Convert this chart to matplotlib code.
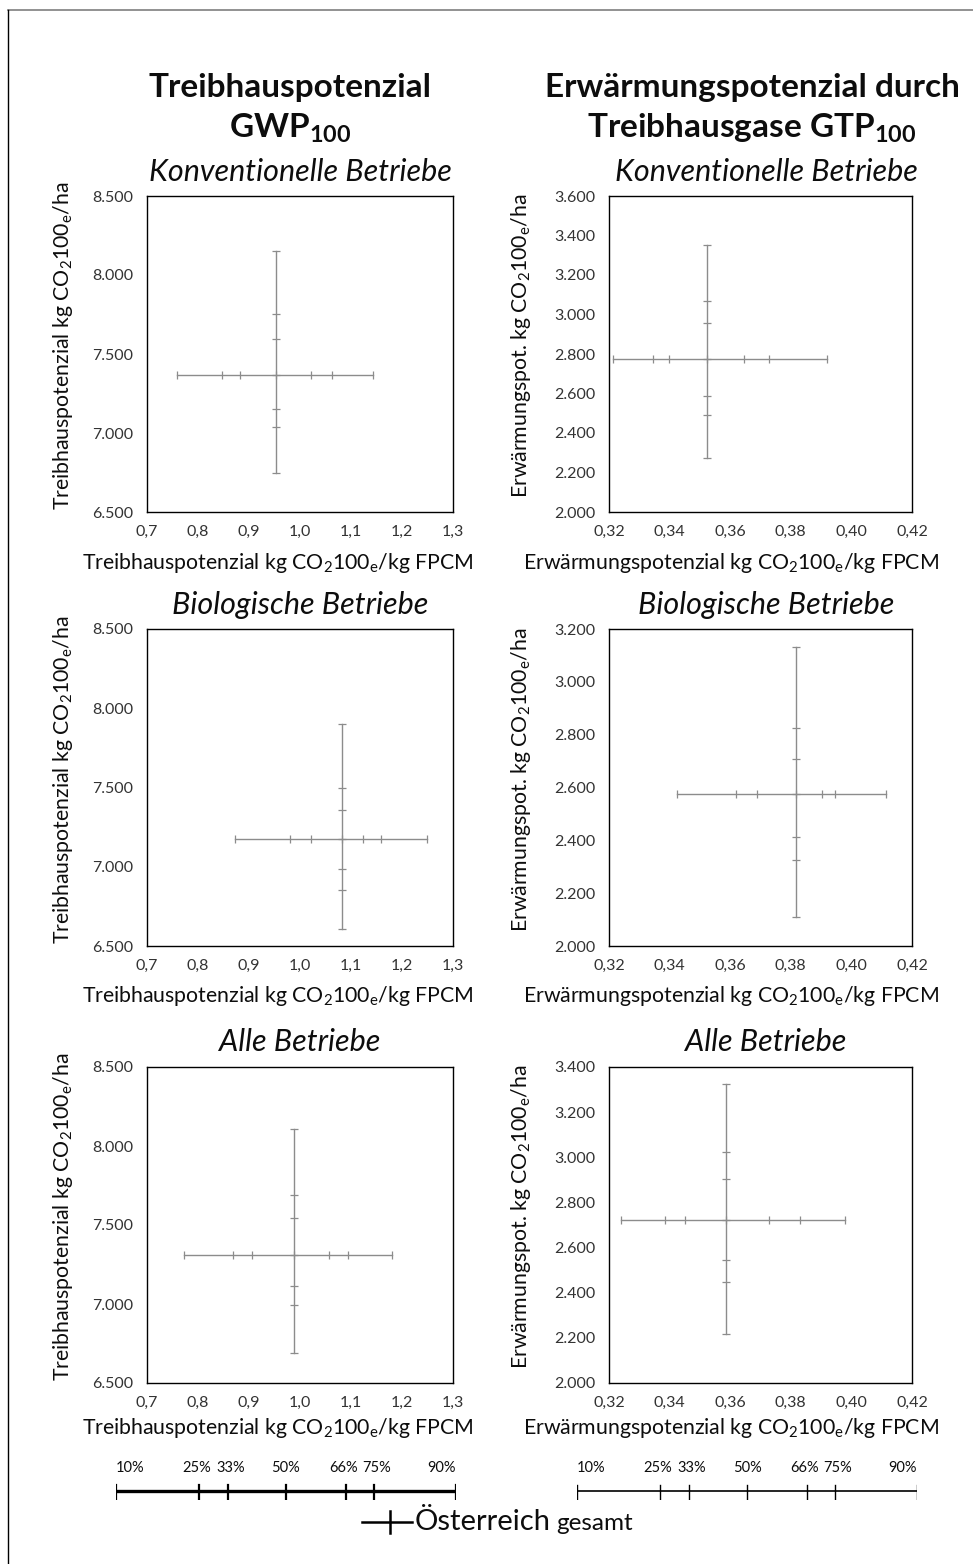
import matplotlib
matplotlib.use("Agg")
import matplotlib.pyplot as plt
from matplotlib.lines import Line2D
from matplotlib.ticker import FixedLocator, FuncFormatter

plt.rcParams['font.family'] = ['Lato', 'DejaVu Sans']
plt.rcParams['mathtext.fontset'] = 'custom'
plt.rcParams['mathtext.rm'] = 'Lato'
plt.rcParams['mathtext.it'] = 'Lato:italic'
plt.rcParams['mathtext.bf'] = 'Lato:bold'

# ---------------- data (percentiles 10,25,33,50,66,75,90) ----------------
percentile_labels = ['10%', '25%', '33%', '50%', '66%', '75%', '90%']

# GWP100 - per kg FPCM (x) and per ha (y)
gwp_konv_x = [0.758, 0.847, 0.882, 0.953, 1.021, 1.063, 1.144]
gwp_konv_y = [6746, 7037, 7155, 7367, 7593, 7753, 8155]
gwp_bio_x = [0.872, 0.980, 1.022, 1.083, 1.124, 1.159, 1.250]
gwp_bio_y = [6608, 6856, 6986, 7178, 7355, 7498, 7898]
gwp_alle_x = [0.773, 0.868, 0.906, 0.988, 1.057, 1.094, 1.181]
gwp_alle_y = [6692, 6993, 7111, 7313, 7543, 7693, 8108]

# GTP100 - per kg FPCM (x) and per ha (y)
gtp_konv_x = [0.3214, 0.3345, 0.3399, 0.3523, 0.3647, 0.3729, 0.3918]
gtp_konv_y = [2273, 2490, 2589, 2776, 2955, 3069, 3354]
gtp_bio_x = [0.3423, 0.3618, 0.3687, 0.3818, 0.3902, 0.3946, 0.4114]
gtp_bio_y = [2111, 2326, 2412, 2574, 2709, 2826, 3133]
gtp_alle_x = [0.3240, 0.3385, 0.3450, 0.3587, 0.3729, 0.3829, 0.3980]
gtp_alle_y = [2217, 2447, 2544, 2723, 2904, 3024, 3325]

gwp_xticks = [0.7, 0.8, 0.9, 1.0, 1.1, 1.2, 1.3]
gwp_yticks = [6500, 7000, 7500, 8000, 8500]
gtp_xticks = [0.32, 0.34, 0.36, 0.38, 0.40, 0.42]
gtp_yticks_konv = [2000, 2200, 2400, 2600, 2800, 3000, 3200, 3400, 3600]
gtp_yticks_bio = [2000, 2200, 2400, 2600, 2800, 3000, 3200]
gtp_yticks_alle = [2000, 2200, 2400, 2600, 2800, 3000, 3200, 3400]

subtitles = ['Konventionelle Betriebe', 'Biologische Betriebe', 'Alle Betriebe']

# schematic percentile scale (relative position 0..1)
legend_scale_pos = [0.0, 0.245, 0.33, 0.5, 0.677, 0.759, 1.0]

# ---------------- figure ----------------
W, H = 973, 1564
fig = plt.figure(figsize=(W / 100, H / 100), dpi=100)
fig.patch.set_facecolor('white')

def fx(px):
    return px / W

def fy(py):
    return 1 - py / H

LINE_C = '#8c8c8c'
TICK_C = '#333333'
TXT_C = '#0d0d0d'

def de_num(v, dec):
    s = f"{v:,.{dec}f}"
    return s.replace(',', 'X').replace('.', ',').replace('X', '.')

rows_top = [196, 629, 1067]
rows_bot = [512, 946, 1383]
left_cols = [(147, 453), (609, 912)]

panels = [
    [(gwp_konv_x, gwp_konv_y, gwp_xticks, gwp_yticks, 1),
     (gtp_konv_x, gtp_konv_y, gtp_xticks, gtp_yticks_konv, 2)],
    [(gwp_bio_x, gwp_bio_y, gwp_xticks, gwp_yticks, 1),
     (gtp_bio_x, gtp_bio_y, gtp_xticks, gtp_yticks_bio, 2)],
    [(gwp_alle_x, gwp_alle_y, gwp_xticks, gwp_yticks, 1),
     (gtp_alle_x, gtp_alle_y, gtp_xticks, gtp_yticks_alle, 2)],
]

xlabels = [r'Treibhauspotenzial kg CO$_2$100$_{\mathrm{e}}$/kg FPCM',
           r'Erwärmungspotenzial kg CO$_2$100$_{\mathrm{e}}$/kg FPCM']
ylabels = [r'Treibhauspotenzial kg CO$_2$100$_{\mathrm{e}}$/ha',
           r'Erwärmungspot. kg CO$_2$100$_{\mathrm{e}}$/ha']
xlabel_cx = [278, 731]
ylabel_x = [63, 521]
subtitle_cx = [300, 766]
subtitle_y = [172, 605, 1042]
xlabel_y = [563, 996, 1428]

for r in range(3):
    for c in range(2):
        xs, ys, xt, yt, dec = panels[r][c]
        x0, x1 = left_cols[c]
        t, b = rows_top[r], rows_bot[r]
        ax = fig.add_axes([fx(x0), fy(b), fx(x1) - fx(x0), (b - t) / H])
        med_x = xs[3]
        med_y = ys[3]
        ax.plot(xs, [med_y] * len(xs), color=LINE_C, lw=1.0, marker='|',
                markersize=6, markeredgewidth=0.9, zorder=3)
        ax.plot([med_x] * len(ys), ys, color=LINE_C, lw=1.0, marker='_',
                markersize=6, markeredgewidth=0.9, zorder=3)
        ax.set_xlim(xt[0], xt[-1])
        ax.set_ylim(yt[0], yt[-1])
        ax.xaxis.set_major_locator(FixedLocator(xt))
        ax.yaxis.set_major_locator(FixedLocator(yt))
        ax.xaxis.set_major_formatter(FuncFormatter(lambda v, p, d=dec: de_num(v, d)))
        ax.yaxis.set_major_formatter(FuncFormatter(lambda v, p: de_num(v, 0)))
        ax.tick_params(length=0, labelsize=11.5, colors=TICK_C)
        ax.tick_params(axis='y', pad=10)
        ax.tick_params(axis='x', pad=9)
        for s in ax.spines.values():
            s.set_color('black')
            s.set_linewidth(1.0)
        fig.text(fx(xlabel_cx[c]), fy(xlabel_y[r]), xlabels[c], ha='center',
                 va='center', fontsize=15.3, color=TXT_C)
        fig.text(fx(ylabel_x[c]), fy((t + b) / 2 - 8), ylabels[c], ha='center',
                 va='center', rotation=90, fontsize=15.3, color=TXT_C)
        fig.text(fx(subtitle_cx[c]), fy(subtitle_y[r]), subtitles[r],
                 ha='center', va='center', fontsize=22, style='italic',
                 color=TXT_C)

# main titles
fig.text(fx(290), fy(88), 'Treibhauspotenzial', ha='center', va='center',
         fontsize=24, fontweight='bold', color=TXT_C)
fig.text(fx(290), fy(128), r'GWP$_{\mathbf{100}}$', ha='center', va='center',
         fontsize=24, fontweight='bold', color=TXT_C)
fig.text(fx(752), fy(88), 'Erwärmungspotenzial durch', ha='center',
         va='center', fontsize=24, fontweight='bold', color=TXT_C)
fig.text(fx(752), fy(128), r'Treibhausgase GTP$_{\mathbf{100}}$', ha='center',
         va='center', fontsize=24, fontweight='bold', color=TXT_C)

# schematic percentile scales
scale_cols = [(116, 456, 2.4, 1.6), (577, 917, 1.2, 1.0)]
label_nudge = [0, -3, 3, 0, -3, 3, 0]
for (sx0, sx1, lw, tlw) in scale_cols:
    lax = fig.add_axes([fx(sx0), fy(1500), fx(sx1) - fx(sx0), 18 / H])
    lax.set_xlim(0, 1)
    lax.set_ylim(-1, 1)
    lax.axis('off')
    lax.plot([0, 1], [0, 0], color='black', lw=lw, solid_capstyle='butt')
    for pos in legend_scale_pos:
        lax.plot([pos, pos], [-1, 0.7], color='black', lw=tlw)
    for i, (pos, lab) in enumerate(zip(legend_scale_pos, percentile_labels)):
        ha = 'left' if i == 0 else ('right' if i == len(percentile_labels) - 1 else 'center')
        fig.text(fx(sx0 + pos * (sx1 - sx0) + label_nudge[i]), fy(1468), lab,
                 ha=ha, va='center', fontsize=10.5, color=TXT_C)

# legend "Österreich gesamt"
fig.add_artist(Line2D([fx(362), fx(412)], [fy(1522), fy(1522)], color='black',
                      lw=1.8))
fig.add_artist(Line2D([fx(390), fx(390)], [fy(1511), fy(1533)], color='black',
                      lw=1.8))
t1 = fig.text(fx(415), fy(1522), 'Österreich', ha='left', va='center',
              fontsize=21, color=TXT_C)
fig.canvas.draw()
bb = t1.get_window_extent()
fig.text((bb.x1 + 5) / W, fy(1524), 'gesamt', ha='left', va='center',
         fontsize=17.5, color=TXT_C)

# outer border (top and left)
fig.add_artist(Line2D([fx(8), fx(973)], [fy(10), fy(10)], color='#7f7f7f', lw=1.2))
fig.add_artist(Line2D([fx(8), fx(8)], [fy(10), fy(1564)], color='black', lw=1.0))

fig.savefig('out.png', dpi=100, facecolor='white')
